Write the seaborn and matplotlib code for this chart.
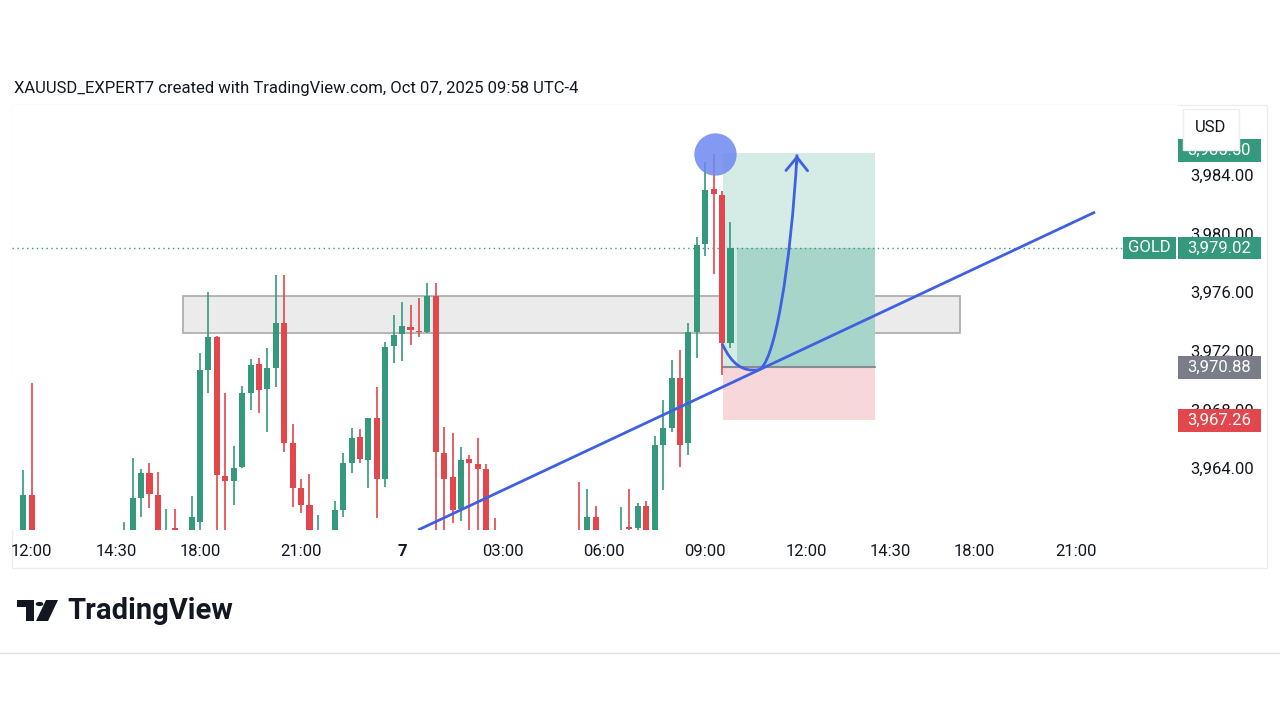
#!/usr/bin/env python3

import numpy as np
import matplotlib
matplotlib.use("Agg")
import matplotlib.pyplot as plt
import seaborn as sns
from matplotlib.patches import Rectangle, Polygon, Circle, PathPatch
from matplotlib.path import Path
from matplotlib.transforms import blended_transform_factory

# 15 min candles, x = candle index (0 = 18:00 session open, 17:00-18:00 break skipped)
idx = [-21, -20, -9, -8, -7, -6, -5, -4, -3, -1, 0, 1, 2, 3, 4, 5, 6, 7, 8, 9, 10, 11, 12, 13, 14,
       16, 17, 18, 19, 20, 21, 22, 23, 24, 25, 26, 27, 28, 29, 30, 31, 32, 33, 34, 35,
       45, 46, 47, 50, 51, 52, 53, 54, 55, 56, 57, 58, 59, 60, 61, 62, 63]
opens = [3958.80, 3962.16, 3958.90, 3959.20, 3961.93, 3963.64, 3962.16, 3958.90, 3959.90, 3959.30,
         3960.33, 3970.69, 3972.96, 3963.45, 3963.13, 3964.05, 3969.10, 3971.07, 3969.39, 3970.80,
         3973.87, 3965.74, 3962.63, 3961.47, 3959.00,
         3959.30, 3961.13, 3964.37, 3966.14, 3964.54, 3967.39, 3963.23, 3972.33, 3973.15, 3973.60,
         3973.37, 3973.30, 3975.74, 3965.05, 3963.36, 3961.17, 3964.60, 3964.25, 3963.93, 3959.60,
         3959.50, 3959.20, 3960.67, 3959.00, 3959.95, 3959.89, 3961.41, 3959.60, 3965.57, 3966.71,
         3970.12, 3965.68, 3973.30, 3979.27, 3983.02, 3982.63, 3972.51]
highs = [3963.86, 3969.80, 3960.33, 3964.66, 3963.90, 3964.37, 3963.76, 3961.19, 3961.19, 3962.09,
         3971.83, 3976.04, 3973.00, 3969.10, 3965.47, 3969.60, 3971.41, 3971.48, 3972.17, 3977.17,
         3977.17, 3967.00, 3963.24, 3963.59, 3960.79,
         3961.75, 3965.05, 3966.71, 3966.64, 3967.43, 3969.56, 3972.62, 3974.44, 3975.35, 3975.13,
         3975.58, 3976.65, 3976.65, 3966.82, 3966.37, 3965.46, 3964.89, 3966.03, 3964.30, 3960.56,
         3963.07, 3962.55, 3961.41, 3961.37, 3962.55, 3961.60, 3961.78, 3966.18, 3968.64, 3971.37,
         3972.05, 3973.93, 3979.79, 3984.91, 3985.43, 3982.90, 3980.81]
lows = [3958.50, 3958.30, 3958.50, 3958.90, 3960.67, 3961.25, 3958.90, 3958.60, 3959.00, 3959.00,
        3959.60, 3969.15, 3959.50, 3959.50, 3961.47, 3964.00, 3967.96, 3967.73, 3966.48, 3969.56,
        3965.12, 3961.31, 3960.90, 3958.80, 3958.70,
        3959.00, 3960.67, 3963.64, 3964.32, 3962.63, 3960.56, 3962.73, 3971.19, 3971.33, 3972.40,
        3972.97, 3973.20, 3959.50, 3959.60, 3960.22, 3960.41, 3959.50, 3959.50, 3958.80, 3958.90,
        3958.80, 3958.90, 3959.00, 3958.80, 3959.30, 3959.60, 3959.00, 3959.30, 3962.50, 3966.48,
        3964.10, 3964.89, 3971.48, 3978.47, 3977.24, 3970.35, 3972.17]
closes = [3962.16, 3958.90, 3959.50, 3961.93, 3963.64, 3962.23, 3959.20, 3959.50, 3959.80, 3960.63,
          3970.69, 3972.96, 3963.52, 3963.13, 3963.99, 3969.10, 3971.03, 3969.32, 3970.80, 3973.87,
          3965.74, 3962.63, 3961.47, 3959.20, 3959.50,
          3961.13, 3964.32, 3966.07, 3964.60, 3967.43, 3963.23, 3972.28, 3973.08, 3973.69, 3973.40,
          3973.26, 3975.74, 3965.12, 3963.23, 3961.13, 3964.54, 3964.32, 3963.93, 3959.00, 3959.20,
          3959.10, 3960.67, 3959.30, 3959.40, 3959.85, 3961.41, 3959.30, 3965.57, 3966.71, 3970.12,
          3965.57, 3973.28, 3979.22, 3982.98, 3982.70, 3972.51, 3979.02]

time_ticks = [-20, -10, 0, 12, 24, 36, 48, 60, 72, 82, 92, 104]
time_labels = ["12:00", "14:30", "18:00", "21:00", "7", "03:00", "06:00", "09:00",
               "12:00", "14:30", "18:00", "21:00"]
price_ticks = [3964, 3968, 3972, 3976, 3980, 3984]

last_price = 3979.02
entry_price = 3970.88
stop_price = 3967.26
target_price = 3985.50
position_x = [62.1, 80.2]
zone_x = [-2.0, 90.3]
zone_prices = [3973.21, 3975.74]
trend_x = [25.9, 106.3]
trend_y = [3959.77, 3981.47]

UP = "#35997d"
DOWN = "#e2474d"
BLUE = "#3f60e3"
INK = "#131722"

sns.set_theme(style="white")
plt.rcParams["font.family"] = ["Roboto", "DejaVu Sans"]

W, H = 1280, 720
fig = plt.figure(figsize=(12.8, 7.2), dpi=100)
ax = fig.add_axes([12 / W, 190 / H, 1166 / W, 425 / H])
ax.set_xlim(-22.33, 116.15)
ax.set_ylim(3959.77, 3988.78)

# consolidation zone
ax.add_patch(Rectangle((zone_x[0], zone_prices[0]), zone_x[1] - zone_x[0],
                       zone_prices[1] - zone_prices[0], facecolor="#ebebeb",
                       edgecolor="#a9a9a9", lw=1.2, zorder=1))

# long position tool
pw = position_x[1] - position_x[0]
ax.add_patch(Rectangle((position_x[0], entry_price), pw, target_price - entry_price,
                       facecolor="#d5ece6", edgecolor="none", zorder=1.2))
ax.add_patch(Rectangle((63.8, entry_price), position_x[1] - 63.8, last_price - entry_price,
                       facecolor="#a8d5ca", edgecolor="none", zorder=1.3))
ax.add_patch(Rectangle((position_x[0], stop_price), pw, entry_price - stop_price,
                       facecolor="#f7d7d9", edgecolor="none", zorder=1.2))
ax.plot(position_x, [entry_price, entry_price], color="#878b94", lw=1.5, zorder=1.4)

# last price line
ax.axhline(last_price, color=UP, lw=1, ls=(0, (1, 2.5)), zorder=1.5)

# candles
o = np.array(opens)
c = np.array(closes)
colors = [UP if cc >= oo else DOWN for oo, cc in zip(o, c)]
ax.vlines(idx, lows, highs, colors=colors, lw=1.2, zorder=3)
ax.bar(idx, np.maximum(np.abs(c - o), 0.1), bottom=np.minimum(o, c), width=0.72,
       color=colors, linewidth=0, zorder=4)

# trendline
ax.plot(trend_x, trend_y, color=BLUE, lw=2, solid_capstyle="butt", zorder=5)

# projected path
verts = [(62.0, 3972.5), (63.2, 3971.0), (64.5, 3970.6), (66.2, 3970.7),
         (68.2, 3970.7), (70.2, 3978.0), (70.9, 3985.4)]
codes = [Path.MOVETO] + [Path.CURVE4] * 6
ax.add_patch(PathPatch(Path(verts, codes), facecolor="none", edgecolor=BLUE, lw=2, zorder=5))
ax.annotate("", xy=(70.9, 3985.55), xytext=(70.88, 3984.6),
            arrowprops=dict(arrowstyle="->,head_length=0.8,head_width=0.65", color=BLUE, lw=2),
            zorder=5)

# highlight circle at the high
ax.scatter([61.2], [3985.45], s=930, color="#6e88f0", alpha=0.85, linewidths=0, zorder=6)

# axes styling
sns.despine(ax=ax, left=True, bottom=True, right=True, top=True)
ax.set_xticks(time_ticks)
ax.set_xticklabels(time_labels)
ax.tick_params(axis="x", length=0, pad=10, labelsize=12, labelcolor=INK)
for lab in ax.get_xticklabels():
    if lab.get_text() == "7":
        lab.set_fontweight("bold")
ax.yaxis.tick_right()
ax.set_yticks(price_ticks)
ax.set_yticklabels([f"{p:,.2f}" for p in price_ticks])
ax.tick_params(axis="y", length=0, pad=9, labelsize=12, labelcolor=INK)
ax.grid(False)

# price labels on the scale
bt = blended_transform_factory(fig.transFigure, ax.transData)
def price_tag(x0, x1, price, text, color):
    fig.add_artist(Rectangle((x0 / W, price - 0.78), (x1 - x0) / W, 1.56,
                             transform=bt, facecolor=color, edgecolor="none", zorder=2))
    fig.add_artist(plt.Text((x0 + x1) / 2 / W, price, text, transform=bt, color="white",
                            fontsize=12, ha="center", va="center", zorder=3))

price_tag(1178, 1261, 3985.68, f"{target_price:,.2f}", UP)
price_tag(1178, 1261, last_price, f"{last_price:,.2f}", UP)
price_tag(1123, 1176, last_price, "GOLD", UP)
price_tag(1178, 1261, entry_price, f"{entry_price:,.2f}", "#7a7d87")
price_tag(1178, 1261, stop_price, f"{stop_price:,.2f}", DOWN)

# USD box (covers top of target label)
fig.add_artist(Rectangle((1183 / W, 1 - 150 / H), 56 / W, 41 / H, transform=fig.transFigure,
                         facecolor="white", edgecolor="#eeeeee", lw=1, zorder=4))
fig.text(1211 / W, 1 - 127 / H, "USD", ha="center", va="center", fontsize=12, color=INK,
         zorder=5)

# widget frame and separators
fig.add_artist(Rectangle((12 / W, 1 - 568 / H), 1255 / W, 463 / H, transform=fig.transFigure,
                         facecolor="none", edgecolor="#ececec", lw=1, zorder=0))
fig.add_artist(plt.Line2D([0, 1], [1 - 653 / H] * 2, transform=fig.transFigure,
                          color="#e0e0e0", lw=1))

fig.text(14 / W, 1 - 88 / H, "XAUUSD_EXPERT7 created with TradingView.com, Oct 07, 2025 09:58 UTC-4",
         ha="left", va="center", fontsize=12, color=INK)

# TradingView logo
def px(x, y):
    return (x / W, 1 - y / H)
fig.add_artist(Polygon([px(17, 600), px(34, 600), px(34, 621), px(26, 621), px(26, 607),
                        px(17, 607)], closed=True, transform=fig.transFigure,
                       facecolor="#131722", edgecolor="none"))
fig.add_artist(Circle(px(39.5, 604), 3.8 / W, transform=fig.transFigure,
                      facecolor="#131722", edgecolor="none"))
fig.add_artist(Polygon([px(46, 600), px(58, 600), px(48, 621), px(36, 621)], closed=True,
                       transform=fig.transFigure, facecolor="#131722", edgecolor="none"))
fig.text(67 / W, 1 - 611 / H, "TradingView", ha="left", va="center", fontsize=21,
         fontweight="bold", color="#131722")

fig.savefig("out.png", dpi=100)
plt.close()
